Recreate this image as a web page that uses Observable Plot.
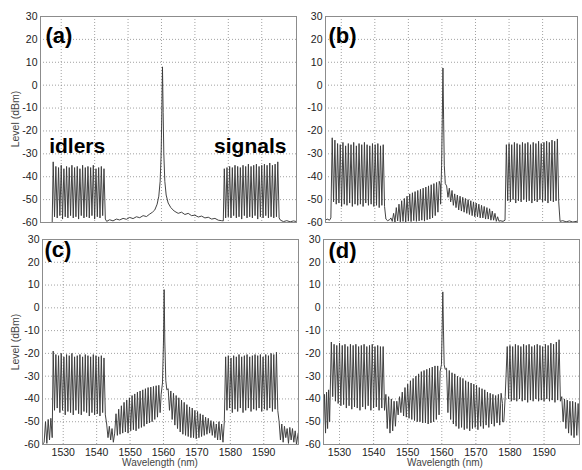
<!DOCTYPE html>
<html><head><meta charset="utf-8">
<script src="https://cdn.jsdelivr.net/npm/d3@7"></script>
<script src="https://cdn.jsdelivr.net/npm/@observablehq/plot@0.6"></script>
<style>
body{margin:0;background:#fff;font-family:Arial,"Liberation Sans",sans-serif;}
#wrap{position:relative;width:582px;height:470px;overflow:hidden;background:#fff;}
#wrap svg{position:absolute;overflow:visible;}
.ylab{position:absolute;font-size:10.5px;line-height:11px;color:#444;white-space:nowrap;transform:translate(-50%,-50%) rotate(-90deg);}
.xlab{position:absolute;font-size:10px;line-height:10px;color:#444;white-space:nowrap;transform:translateX(-50%);}
</style></head><body><div id="wrap"></div>
<script>
// ---------- axis ticks ----------
const yTicks = [-60,-50,-40,-30,-20,-10,0,10,20,30];
const xTicks = [1530,1540,1550,1560,1570,1580,1590];
const channelSpacing = 0.8; // nm

// ---------- panel (a) ----------
const aIdlerStart = 1527.6;
const aIdlerPeaks  = [-33.5,-35.5,-36,-35,-36.5,-35.5,-36,-35,-36,-35.5,-36.5,-35,-36,-35.5,-36,-35,-36.5,-36,-35.5,-36.5];
const aIdlerFloors = [-57.5,-58,-57,-58.5,-57.5,-58,-57,-58,-57.5,-58.5,-57,-58,-57.5,-58,-57,-58.5,-57.5,-58,-57,-58.5];
const aSignalStart = 1578.8;
const aSignalPeaks  = [-36.5,-36,-35.5,-36,-35,-35.5,-36,-35,-35.5,-34.5,-35.5,-35,-34.5,-35.5,-35,-34.5,-35,-34,-35,-34.5,-33.5];
const aSignalFloors = [-58,-57.5,-58,-57,-58,-57.5,-58.5,-57,-58,-57.5,-58,-57,-58.5,-57.5,-58,-57,-58,-57.5,-58,-57.5,-58];
const aBackground = [[1523.8,-60],[1527.3,-60],
  [1543.6,-59.5],[1544.5,-58.8],[1545.5,-59.3],[1546.5,-58.5],[1547.5,-58.9],[1548.5,-58.2],[1549.5,-58.6],[1550.5,-57.8],[1551.5,-58.3],[1552.5,-57.5],[1553.5,-57.9],[1554.5,-57],[1555.5,-57.4],[1556.5,-56.3],[1557.3,-55.5],[1558,-54.5],[1558.7,-52],[1559.2,-48.5],[1559.6,-42],[1559.9,-30],[1560.1,-12],[1560.3,8],[1560.5,-12],[1560.7,-30],[1561,-42],[1561.4,-48],[1562,-51.5],[1562.8,-53.5],[1563.8,-55],[1565,-56],[1566,-55.5],[1567,-56.5],[1568,-56],[1569,-57],[1570,-56.8],[1571,-57.6],[1572,-57.2],[1573,-58],[1574,-57.7],[1575,-58.5],[1576,-58.2],[1577,-59],[1578,-59.2],[1578.5,-59.3],
  [1595.6,-59],[1596.5,-59.6],[1597.5,-59.2],[1598.5,-59.7],[1599.5,-59.3],[1600.4,-59.6]];

// ---------- panel (b) ----------
const bIdlerStart = 1527.3;
const bIdlerPeaks  = [-23,-24,-25.5,-26,-25,-26.5,-25.5,-26,-25,-26.5,-25.5,-26,-25,-26,-26.5,-25.5,-26,-25.5,-26.5,-26];
const bIdlerFloors = [-51,-52,-51.5,-53,-52,-52.5,-51.5,-53,-52,-52.5,-52,-53,-51.5,-52.5,-52,-53,-52.5,-53.5,-52.5,-53];
const bMidLeftStart = 1544.8;
const bMidLeftPeaks  = [-58,-56,-53.5,-52,-50.5,-49.5,-48.5,-47.5,-47,-46.5,-46,-45.5,-45,-44.5,-44,-43.5,-43,-42.5,-42];
const bMidLeftFloors = [-59.5,-59.8,-59.3,-59.7,-59.5,-59.8,-59.4,-59.6,-59.2,-59.5,-59.3,-59,-59.4,-58.8,-58.5,-58,-57,-55.5,-52];
const bMidRightStart = 1561.4;
const bMidRightPeaks  = [-44,-45,-46,-47.5,-48,-48.5,-49,-49.5,-50,-50.5,-51,-51.5,-52,-52.5,-53,-53.5,-54,-55,-56,-57.5];
const bMidRightFloors = [-49,-51,-52.5,-53.5,-54.5,-55,-55.5,-56,-56.5,-57,-57.5,-57.5,-58,-58,-58.5,-58.5,-59,-59,-59.5,-59.5];
const bSignalStart = 1579.2;
const bSignalPeaks  = [-26,-25.5,-26,-25,-25.5,-26,-25,-25.5,-25,-26,-25,-25.5,-24.5,-25.5,-25,-24.5,-25,-24,-24.5,-23.5];
const bSignalFloors = [-50.5,-51,-50,-51.5,-50.5,-51,-50,-51,-50.5,-51.5,-50.5,-51,-50,-51,-50.5,-51.5,-50.5,-51,-50.5,-51];
const bBackground = [[1525.3,-59],[1525.8,-58.5],[1526.5,-59],[1526.9,-58],
  [1543.3,-58.5],[1543.8,-59.2],[1544.4,-58.8],
  [1559.6,-44],[1559.9,-35],[1560.1,-15],[1560.3,7.5],[1560.5,-15],[1560.7,-35],[1561,-43],
  [1577.3,-59.2],[1578.2,-59.5],[1578.8,-59],
  [1595.2,-59.5],[1596,-59.2],[1597,-59.7],[1598,-59.3],[1599,-59.8],[1600.4,-59.4]];

// ---------- panel (c) ----------
const cIdlerStart = 1527.0;
const cIdlerPeaks  = [-19,-20.5,-21,-20,-21.5,-20.5,-21,-20,-21.5,-21,-20.5,-21.5,-20.5,-21,-21.5,-20.5,-21,-21.5,-21,-22];
const cIdlerFloors = [-45,-44,-46,-45,-47,-45.5,-46,-47,-45,-46.5,-47,-45.5,-46,-47.5,-46,-47,-46.5,-47.5,-46,-47];
const cMidLeftStart = 1545.8;
const cMidLeftPeaks  = [-46.5,-44.5,-43,-41.5,-40.5,-39.5,-38.5,-37.8,-37,-36.5,-36,-35.5,-35,-34.8,-34.5,-34.2,-34];
const cMidLeftFloors = [-56,-55.5,-55,-54.5,-55,-54,-53.5,-54,-53,-52.5,-52,-51,-50.5,-50,-49,-48,-46];
const cMidRightStart = 1561.4;
const cMidRightPeaks  = [-35.5,-36.5,-37.5,-38.5,-39.5,-40.5,-41.5,-42.5,-43.5,-44,-45,-45.5,-46.5,-47,-48,-48.5,-49.5,-50,-51];
const cMidRightFloors = [-45,-49,-51.5,-53,-54.5,-55.5,-56,-56.5,-57,-57,-57.5,-57,-56.5,-56,-55.5,-55,-56,-57,-58];
const cSignalStart = 1578.6;
const cSignalPeaks  = [-21.5,-21,-22,-21,-21.5,-20.5,-21.5,-21,-20.5,-21.5,-21,-20.5,-21,-20.5,-21.5,-20.5,-21,-20,-20.5,-19.5];
const cSignalFloors = [-45,-44,-46,-44.5,-45.5,-44,-46,-45,-44,-45.5,-44.5,-45,-44,-45.5,-44.5,-45,-44,-45.5,-44.5,-45];
const cBackground = [[1523.8,-60],[1524.3,-59],[1524.7,-50],[1525.1,-59.5],[1525.5,-49],[1525.9,-58],[1526.3,-48.5],[1526.7,-57],
  [1543.0,-51],[1543.4,-57],[1543.8,-52],[1544.2,-58],[1544.6,-53],[1545.0,-59],[1545.4,-55],
  [1559.3,-38],[1559.7,-33],[1560.0,-15],[1560.2,8],[1560.4,-15],[1560.7,-32],[1561.0,-36],
  [1576.6,-50],[1577.0,-58],[1577.4,-51],[1577.8,-59],[1578.2,-50],
  [1594.6,-50],[1595.0,-58],[1595.4,-51],[1595.8,-59],[1596.2,-52],[1596.6,-57],[1597.0,-53],[1597.4,-59.5],[1597.8,-52.5],[1598.2,-58],[1598.6,-53],[1599.0,-59],[1599.4,-54],[1599.8,-60],[1600.3,-55]];

// ---------- panel (d) ----------
const dIdlerStart = 1527.6;
const dIdlerPeaks  = [-15,-16,-16.5,-15.5,-16.5,-16,-17,-16,-16.5,-16,-17,-16.5,-16,-17,-16.5,-16,-17,-16.5,-17,-17];
const dIdlerFloors = [-39,-41,-42,-43,-42.5,-44,-43,-44.5,-43.5,-44,-45,-43.5,-44.5,-43,-45,-44,-43.5,-45,-44,-45];
const dMidLeftStart = 1546.8;
const dMidLeftPeaks  = [-41,-39,-37,-35,-33.5,-32,-31,-30,-29,-28,-27.5,-27,-26.5,-26,-25.5,-25.5];
const dMidLeftFloors = [-47,-46,-47.5,-48,-48.5,-49,-49.5,-50,-50,-50.5,-50.5,-51,-50.5,-50,-49,-47];
const dMidRightStart = 1561.4;
const dMidRightPeaks  = [-26.5,-27.5,-28.5,-29,-30,-30.5,-31,-32,-32.5,-33,-33.5,-34,-35,-35.5,-36,-37,-37.5,-38,-38.5,-38,-37.5];
const dMidRightFloors = [-46,-49,-51,-52,-53,-52.5,-53.5,-53,-54,-53,-52.5,-53.5,-52,-53,-51.5,-52.5,-51,-52,-50.5,-51.5,-50];
const dSignalStart = 1579.2;
const dSignalPeaks  = [-17,-16.5,-17,-16,-16.5,-17,-16,-16.5,-16,-17,-16.5,-16,-16.5,-17,-16,-16.5,-15.5,-16,-15,-14];
const dSignalFloors = [-40,-41,-40.5,-41,-40,-41,-40.5,-41.5,-40.5,-41,-40,-41,-40.5,-41,-40,-41,-40.5,-41.5,-40.5,-41];
const dBackground = [[1525.3,-52],[1525.6,-38],[1525.9,-55],[1526.2,-37],[1526.5,-53],[1526.8,-36],[1527.1,-50],
  [1543.6,-38],[1544.0,-53],[1544.4,-39],[1544.8,-55],[1545.2,-40],[1545.6,-54],[1546.0,-41],[1546.4,-52],
  [1559.5,-28],[1559.9,-25],[1560.1,-10],[1560.3,7],[1560.5,-10],[1560.7,-25],[1561.0,-27],
  [1577.8,-42],[1578.2,-50],[1578.6,-39],
  [1595.2,-39],[1595.6,-50],[1596.0,-40],[1596.4,-53],[1596.8,-40.5],[1597.2,-55],[1597.6,-41],[1598.0,-56],[1598.4,-41],[1598.8,-57],[1599.2,-41.5],[1599.6,-56],[1600.0,-42],[1600.4,-57]];

// ---------- text ----------
const panelLabels = ["(a)","(b)","(c)","(d)"];
const idlerLabel  = [{wl:1526.4, dB:-29.5, text:"idlers"}];
const signalLabel = [{wl:1597.4, dB:-29.5, text:"signals"}];
const yTitle = "Level (dBm)";
const xTitle = "Wavelength (nm)";

// ---------- build traces ----------
function spikes(start, peaks, floors) {
  const pts = [];
  peaks.forEach((p, i) => {
    const w = start + i * channelSpacing;
    pts.push({wl: w, dB: p});
    pts.push({wl: w + channelSpacing / 2, dB: floors[i]});
  });
  return pts;
}
function trace(background, bands) {
  const pts = background.map(([wl, dB]) => ({wl, dB}));
  for (const b of bands) pts.push(...spikes(...b));
  return pts.sort((p, q) => p.wl - q.wl);
}
const traces = [
  trace(aBackground, [[aIdlerStart,aIdlerPeaks,aIdlerFloors],[aSignalStart,aSignalPeaks,aSignalFloors]]),
  trace(bBackground, [[bIdlerStart,bIdlerPeaks,bIdlerFloors],[bMidLeftStart,bMidLeftPeaks,bMidLeftFloors],[bMidRightStart,bMidRightPeaks,bMidRightFloors],[bSignalStart,bSignalPeaks,bSignalFloors]]),
  trace(cBackground, [[cIdlerStart,cIdlerPeaks,cIdlerFloors],[cMidLeftStart,cMidLeftPeaks,cMidLeftFloors],[cMidRightStart,cMidRightPeaks,cMidRightFloors],[cSignalStart,cSignalPeaks,cSignalFloors]]),
  trace(dBackground, [[dIdlerStart,dIdlerPeaks,dIdlerFloors],[dMidLeftStart,dMidLeftPeaks,dMidLeftFloors],[dMidRightStart,dMidRightPeaks,dMidRightFloors],[dSignalStart,dSignalPeaks,dSignalFloors]])
];

// ---------- layout ----------
const panels = [
  {frame:[40,16,296,222],  xd:[1523.8,1600.4], bottom:false, left:true,  lab:{dx:5, dy:11}},
  {frame:[325,16,577,222], xd:[1525.3,1600.4], bottom:false, left:false, lab:{dx:3, dy:11}},
  {frame:[42,239,298,444], xd:[1523.8,1600.4], bottom:true,  left:true,  lab:{dx:2, dy:2}},
  {frame:[323,239,579,444],xd:[1525.3,1600.4], bottom:true,  left:false, lab:{dx:5, dy:3}}
];
const wrap = document.getElementById("wrap");
panels.forEach((p, i) => {
  const [L, T, R, B] = p.frame;
  const mL = 36, mR = 4, mT = 8, mB = p.bottom ? 18 : 4;
  const marks = [
    Plot.ruleX(xTicks, {stroke: "#8a8a8a", strokeWidth: 0.8, strokeDasharray: "1,2"}),
    Plot.ruleY(yTicks, {stroke: "#8a8a8a", strokeWidth: 0.8, strokeDasharray: "1,2"}),
    Plot.line(traces[i], {x: "wl", y: "dB", stroke: "#3a3a3a", strokeWidth: 0.95}),
    Plot.frame({stroke: "#8c8c8c", strokeWidth: 1}),
    Plot.text([panelLabels[i]], {frameAnchor: "top-left", text: d => d, dx: p.lab.dx, dy: p.lab.dy, lineAnchor: "top", textAnchor: "start", fontSize: 22, fontWeight: "bold", fill: "#000"})
  ];
  if (i === 0) {
    marks.push(Plot.text(idlerLabel, {x: "wl", y: "dB", text: "text", textAnchor: "start", lineAnchor: "bottom", fontSize: 21, fontWeight: "bold", fill: "#000"}));
    marks.push(Plot.text(signalLabel, {x: "wl", y: "dB", text: "text", textAnchor: "end", lineAnchor: "bottom", fontSize: 21, fontWeight: "bold", fill: "#000"}));
  }
  const svg = Plot.plot({
    width: R - L + mL + mR,
    height: B - T + mT + mB,
    marginLeft: mL, marginRight: mR, marginTop: mT, marginBottom: mB,
    style: {fontFamily: "Arial, 'Liberation Sans', sans-serif", fontSize: "10.5px", color: "#222", background: "transparent", overflow: "visible"},
    x: {domain: p.xd, ticks: xTicks, tickSize: 0, tickPadding: 4, tickFormat: d => String(d), axis: p.bottom ? "bottom" : null, label: null},
    y: {domain: [-60, 30], ticks: yTicks, tickSize: 0, tickPadding: 3, tickFormat: d => String(d), label: null},
    marks
  });
  svg.style.left = (L - mL) + "px";
  svg.style.top = (T - mT) + "px";
  wrap.appendChild(svg);
  if (p.left) {
    const d = document.createElement("div");
    d.className = "ylab"; d.textContent = yTitle;
    d.style.left = "15px"; d.style.top = ((T + B) / 2) + "px";
    wrap.appendChild(d);
  }
  if (p.bottom) {
    const d = document.createElement("div");
    d.className = "xlab"; d.textContent = xTitle;
    d.style.left = (i === 2 ? 160 : 445) + "px"; d.style.top = "458px";
    wrap.appendChild(d);
  }
});
</script></body></html>
